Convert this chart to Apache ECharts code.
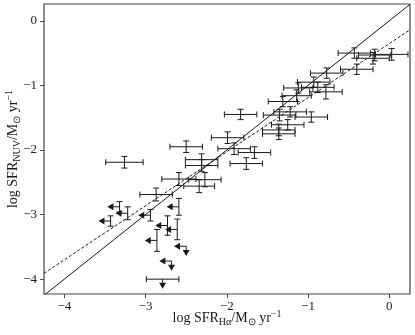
<!DOCTYPE html>
<html>
<head>
<meta charset="utf-8">
<title>SFR NUV vs Halpha</title>
<script src="https://cdn.jsdelivr.net/npm/echarts@6/dist/echarts.min.js"></script>
</head>
<body style="margin:0">
<div id="container" style="width:415px;height:335px"></div>
<script type="text/javascript">

// detections: log SFR(Halpha), log SFR(NUV) and their errors
var detX    = [-3.26, -2.87, -2.59, -2.34, -2.27, -2.31, -2.31, -2.50, -1.83, -1.99, -1.91, -1.66, -1.76,
               -1.31, -1.22, -1.35, -1.25, -1.36, -1.36, -1.12, -1.14, -0.93, -0.88, -0.78, -0.96, -0.77,
               -0.43, -0.18, -0.20, 0.03, -0.40];
var detY    = [-2.19, -2.69, -2.45, -2.56, -2.46, -2.15, -2.24, -1.95, -1.45, -1.81, -1.98, -2.04, -2.21,
               -1.25, -1.41, -1.46, -1.61, -1.69, -1.75, -1.04, -1.16, -0.95, -1.03, -1.10, -1.49, -0.81,
               -0.50, -0.53, -0.58, -0.52, -0.75];
var detXErr = [0.23, 0.20, 0.21, 0.19, 0.20, 0.20, 0.20, 0.20, 0.20, 0.20, 0.20, 0.20, 0.20,
               0.18, 0.20, 0.20, 0.20, 0.20, 0.20, 0.18, 0.18, 0.20, 0.20, 0.20, 0.20, 0.20,
               0.20, 0.20, 0.20, 0.20, 0.20];
var detYErr = [0.09, 0.10, 0.10, 0.10, 0.11, 0.09, 0.09, 0.09, 0.08, 0.09, 0.09, 0.09, 0.09,
               0.08, 0.08, 0.09, 0.08, 0.09, 0.09, 0.08, 0.09, 0.08, 0.08, 0.11, 0.08, 0.08,
               0.08, 0.09, 0.09, 0.09, 0.08];

// upper limits (left = Halpha limit, down = NUV limit)
var limX    = [-3.32, -3.22, -3.43, -2.94, -2.86, -2.59, -2.73, -2.61, -2.50, -2.68, -2.79];
var limY    = [-2.88, -2.98, -3.10, -3.01, -3.40, -2.88, -3.17, -3.23, -3.49, -3.72, -4.00];
var limXErr = [0, 0, 0, 0, 0, 0, 0, 0, 0, 0, 0.20];
var limYErr = [0.08, 0.10, 0.08, 0.09, 0.17, 0.13, 0.15, 0.16, 0, 0, 0];
var limLeft = [1, 1, 1, 1, 1, 1, 1, 1, 1, 1, 0];
var limDown = [0, 0, 0, 0, 0, 0, 0, 0, 1, 1, 1];

// reference lines
var oneToOneX = [-4.25, 0.255];
var oneToOneY = [-4.25, 0.255];
var fitX = [-4.25, 0.255];
var fitY = [-3.91, -0.14];

var tickValues = [-4, -3, -2, -1, 0];

var detData = detX.map(function (x, i) { return [x, detY[i], detXErr[i], detYErr[i], 0, 0]; });
var limData = limX.map(function (x, i) { return [x, limY[i], limXErr[i], limYErr[i], limLeft[i], limDown[i]]; });

var ink = '#1a1a1a';
var arrowLen = 0.15;

function seg(x1, y1, x2, y2) {
    return { type: 'line', shape: { x1: x1, y1: y1, x2: x2, y2: y2 },
             style: { stroke: ink, lineWidth: 1 } };
}

function renderErr(params, api) {
    var x = api.value(0), y = api.value(1);
    var xe = api.value(2), ye = api.value(3);
    var c = api.coord([x, y]);
    var cap = 3;
    var kids = [];
    if (xe > 0) {
        var l = api.coord([x - xe, y])[0], r = api.coord([x + xe, y])[0];
        kids.push(seg(l, c[1], r, c[1]), seg(l, c[1] - cap, l, c[1] + cap), seg(r, c[1] - cap, r, c[1] + cap));
    }
    if (ye > 0) {
        var t = api.coord([x, y + ye])[1], b = api.coord([x, y - ye])[1];
        kids.push(seg(c[0], t, c[0], b), seg(c[0] - cap, t, c[0] + cap, t), seg(c[0] - cap, b, c[0] + cap, b));
    }
    if (api.value(4)) {
        var ax = api.coord([x - arrowLen, y])[0];
        kids.push(seg(c[0], c[1], ax + 4, c[1]));
        kids.push({ type: 'polygon', shape: { points: [[ax, c[1]], [ax + 6, c[1] - 3.5], [ax + 6, c[1] + 3.5]] },
                    style: { fill: ink } });
    }
    if (api.value(5)) {
        var ay = api.coord([x, y - arrowLen])[1];
        kids.push(seg(c[0], c[1], c[0], ay - 4));
        kids.push({ type: 'polygon', shape: { points: [[c[0], ay], [c[0] - 3.5, ay - 6], [c[0] + 3.5, ay - 6]] },
                    style: { fill: ink } });
    }
    return { type: 'group', children: kids };
}

function minus(v) { return v < 0 ? '\u2212' + Math.abs(v) : '' + v; }

var nameRich = {
    b:   { fontFamily: 'Liberation Serif', fontSize: 14, color: ink, lineHeight: 18 },
    sub: { fontFamily: 'Liberation Serif', fontSize: 10, color: ink, lineHeight: 10, verticalAlign: 'bottom' },
    sup: { fontFamily: 'Liberation Serif', fontSize: 10, color: ink, lineHeight: 10, verticalAlign: 'top' }
};

var dom = document.getElementById('container');
var myChart = echarts.init(dom);
var option = {
    animation: false,
    backgroundColor: '#fff',
    grid: { left: 44, right: 5, top: 4, bottom: 41, show: true, borderColor: '#444', borderWidth: 1.2,
            outerBoundsMode: 'none', containLabel: false },
    xAxis: {
        type: 'value', min: -4.25, max: 0.255,
        splitLine: { show: false },
        axisLine: { show: false, onZero: false },
        axisTick: { show: true, length: 4, customValues: tickValues, lineStyle: { color: '#444' } },
        axisLabel: { customValues: tickValues, formatter: minus, margin: 6,
                     fontFamily: 'Liberation Serif', fontSize: 13, color: '#222' },
        name: '{b|log SFR}{sub|H\u03b1}{b|/M}{sub|\u2299}{b| yr}{sup|\u22121}',
        nameLocation: 'middle', nameGap: 15, nameMoveOverlap: false,
        nameTextStyle: { rich: nameRich }
    },
    yAxis: {
        type: 'value', min: -4.23, max: 0.26,
        splitLine: { show: false },
        axisLine: { show: false, onZero: false },
        axisTick: { show: true, length: 4, customValues: tickValues, lineStyle: { color: '#444' } },
        axisLabel: { customValues: tickValues, formatter: minus, margin: 7,
                     fontFamily: 'Liberation Serif', fontSize: 13, color: '#222' },
        name: '{b|log SFR}{sub|NUV}{b|/M}{sub|\u2299}{b| yr}{sup|\u22121}',
        nameLocation: 'middle', nameGap: 22, nameMoveOverlap: false,
        nameTextStyle: { rich: nameRich }
    },
    series: [
        {
            type: 'line', silent: true, symbol: 'none',
            data: oneToOneX.map(function (x, i) { return [x, oneToOneY[i]]; }),
            lineStyle: { color: ink, width: 1 }
        },
        {
            type: 'line', silent: true, symbol: 'none',
            data: fitX.map(function (x, i) { return [x, fitY[i]]; }),
            lineStyle: { color: ink, width: 1, type: [3, 2] }
        },
        { type: 'custom', renderItem: renderErr, data: detData, encode: { x: 0, y: 1 } },
        { type: 'custom', renderItem: renderErr, data: limData, encode: { x: 0, y: 1 } }
    ]
};
myChart.setOption(option);
</script>
</body>
</html>
